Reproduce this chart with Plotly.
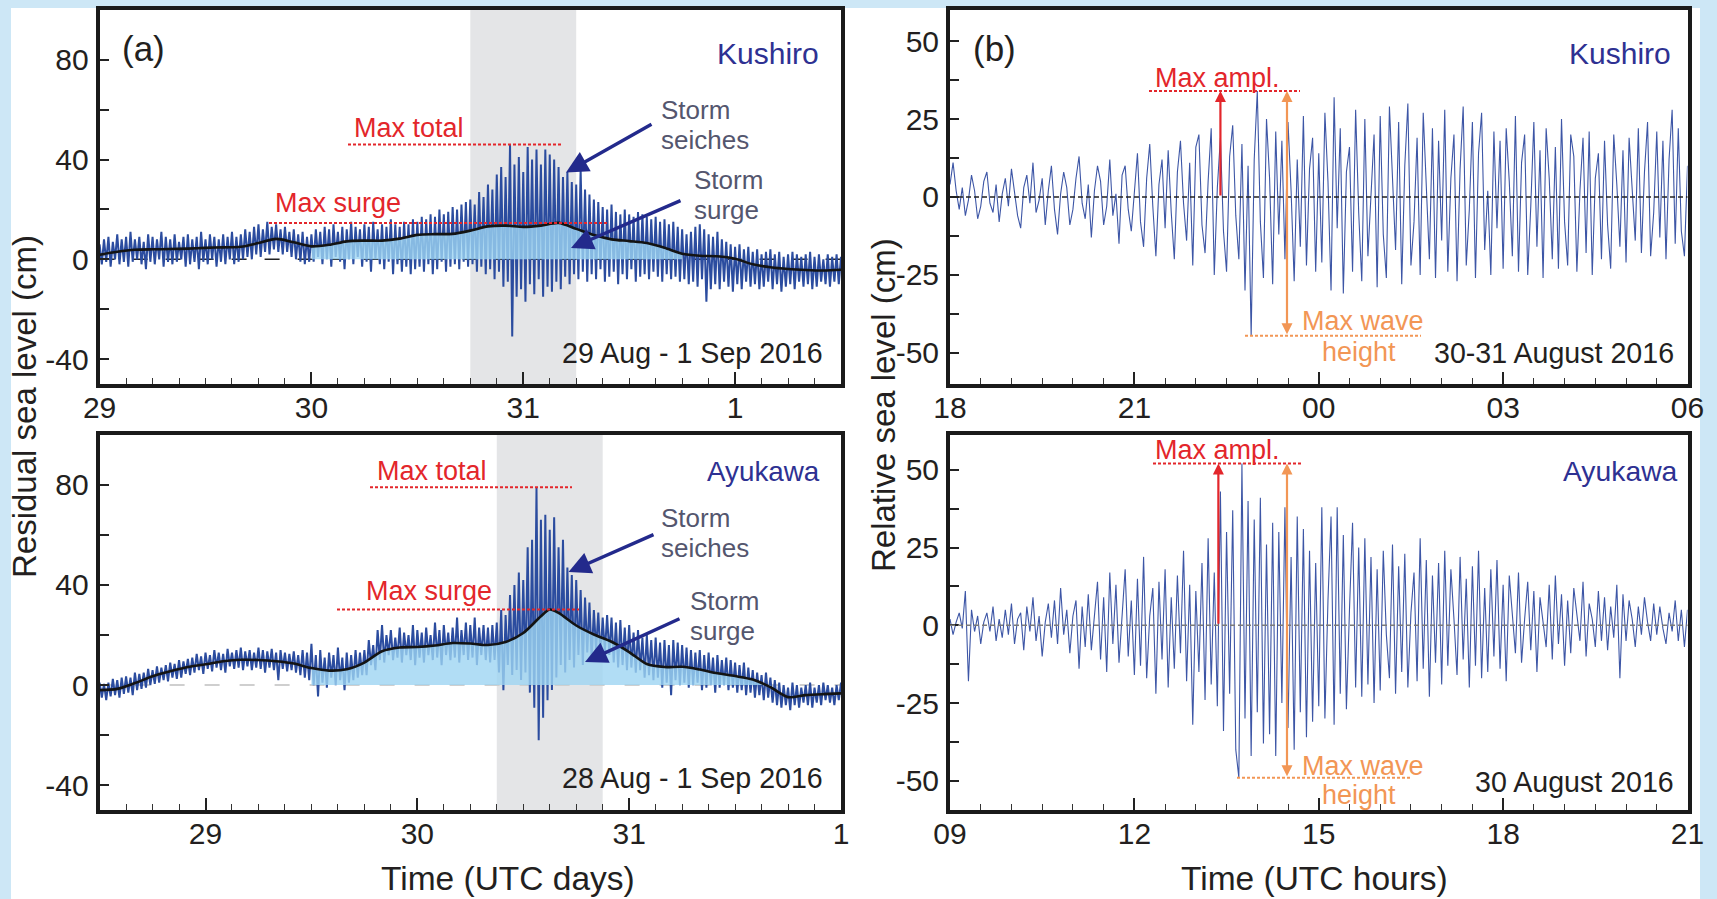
import pandas as pd
import plotly.graph_objects as go

W, H = 1717, 899
FONT = "Liberation Sans, Arial, Helvetica, sans-serif"

# ====================== DATA ======================
# (a) Kushiro residual sea level (cm): upper / lower envelope of the 1-min record in 30-min bins
kus_res_start = "2016-08-29 00:00"
kus_res_hi = [6, 8, 9, 7, 10, 8, 9, 11, 8, 9, 7, 10, 9, 8, 11, 9, 8, 10, 7, 9,
              10, 8, 9, 11, 8, 10, 9, 8, 10, 9, 11, 9, 10, 12, 11, 13,
              14, 12, 15, 13, 14, 12, 13, 11, 12, 10, 11, 9,
              10, 12, 11, 13, 12, 14, 11, 13, 12, 15, 13, 12, 14, 13, 15, 12, 14, 13, 16, 14, 13, 15, 14, 16,
              15, 17, 16, 18, 17, 20, 18, 19, 21, 20, 22, 23,
              24, 22, 27, 25, 30, 28, 34, 37, 33, 46, 38, 41, 35, 45, 40, 44, 38, 44, 42, 40, 37, 33, 35, 31,
              30, 36, 28, 26, 24, 23, 21, 20, 22, 19, 18, 20, 18, 17, 19, 18, 17, 16, 17, 15, 16, 14, 15, 13,
              12, 10, 11, 13, 14, 12, 10, 9, 11, 8, 7, 6, 5, 6, 4, 5, 3, 4, 2, 3,
              4, 2, 3, 1, 2, 3, 2, 1, 2, 3, 1, 2, 0, 2, 1, 2, 1]
kus_res_lo = [-2, -1, -3, 0, -2, -1, -3, -1, 0, -2, -4, -1, -2, 0, -3, -1, -2, -1, 0, -3,
              -2, -1, -4, -1, -2, 0, -3, -1, -2, 0, -2, -1, 0, 1, 0, 2,
              1, 3, 2, 4, 3, 2, 3, 1, 0, -1, -2, -1,
              -1, 1, -2, 0, -3, 1, -1, -4, 0, -2, 1, -3, -1, -5, 0, -2, -4, -1, -6, -2, -5, -3, -6, -4,
              -3, -5, -2, -6, -4, -1, -5, -3, -2, -4, -1, -3,
              -2, -5, -3, -6, -4, -8, -5, -11, -9, -31, -15, -12, -17, -10, -14, -8, -15, -11, -13, -9, -12, -7, -10, -6,
              -8, -5, -9, -6, -8, -4, -9, -7, -5, -10, -6, -8, -4, -9, -7, -6, -8, -5, -7, -9, -6, -8, -7, -9,
              -8, -10, -9, -11, -8, -17, -12, -10, -12, -9, -11, -13, -10, -12, -9, -11, -10, -12, -11, -9,
              -12, -10, -13, -11, -10, -12, -9, -11, -10, -12, -11, -9, -10, -11, -9, -10, -8]
kus_surge_hours = [0, 2, 4, 6, 8, 10, 12, 14, 16, 18, 20, 22, 24, 26, 28, 30, 32, 34, 36, 38, 40, 42,
                   44, 46, 48, 50, 52, 54, 56, 58, 60, 62, 64, 66, 68, 70, 72, 74, 76, 78, 80, 82, 84]
kus_surge = [1.8, 3.0, 3.8, 4.0, 4.1, 4.3, 4.6, 4.8, 5.0, 6.5, 8.2, 6.8, 5.2, 5.8, 7.2, 7.5, 7.5, 8.3, 9.8, 10.1,
             10.2, 11.5, 13.2, 13.5, 13.0, 13.5, 14.6, 12.2, 9.7, 8.0, 7.3, 6.5, 4.6, 2.2, 1.4, 1.2, 0.2, -2.0,
             -3.2, -3.9, -4.3, -4.5, -4.2]

# (a) Ayukawa residual sea level (cm), 30-min bins from 28 Aug 12:00 UTC
ayu_res_start = "2016-08-28 12:00"
ayu_res_hi = [1, 0.5, 1, 2.5, 2, 3, 3.5, 3, 5, 4.5, 5, 6.5, 6, 7.5, 7, 8, 9, 8.5, 10, 9.5, 10.5,
              11, 12.5, 11.5, 13, 12, 14, 13, 12.5, 14.5, 13, 14, 15, 13.5, 14, 13, 15, 14, 13.5, 14.5, 13,
              14, 13, 12.5, 13.5,
              12, 14, 13, 16.5, 12, 14, 11, 13, 12, 15, 11, 13, 12, 14, 13,
              14, 18, 16, 22, 24, 20, 22, 19, 23, 21, 20, 24, 22, 21, 23, 20, 25, 22, 24, 21,
              23, 27, 22, 25, 24, 27, 23, 24,
              23, 24, 25, 30, 28, 36, 40, 45, 42, 55, 58, 79, 66, 68, 62, 67, 55, 58, 47, 44,
              42, 38, 35, 33, 30, 29, 27, 28,
              27, 25, 26, 23, 24, 21, 22, 19, 20, 18, 19, 17, 18, 16, 18, 17, 16, 15, 14, 13,
              14, 12, 13, 11, 12, 10, 11, 10, 9, 8, 9, 7, 6, 5, 4, 5, 3, 2, 1, 0,
              -1, 1, 0, -1, 0, 1, -1, 0, 1, 0, -1, 0, 1]
ayu_res_lo = [-5, -6, -4.5, -4, -5, -3.5, -3, -4, -2, -1.5, -1, 0, 0.5, 1, 2, 1.5, 3, 2.5, 3, 4.5, 4,
              5, 6, 4.5, 6.5, 5.5, 7, 6, 5, 7.5, 6.5, 7, 6, 7.5, 6, 7, 6.5, 5, 7, 6, 2,
              6.5, 5.5, 6, 5,
              4, 3, 2, 0, -4.5, 1, -1, 3, 0, 2, -2, 1, 2, 3, 4,
              4, 8, 6, 10, 9, 12, 10, 11, 9, 12, 10, 8, 11, 9, 12, 10, 11, 8, 12, 10,
              11, 9, 12, 10, 11, 8, 12, 10,
              9, 10, 5, -2, 8, 4, 6, 2, 5, -3, -9, -22, -13, -6, -2, 3, 8, 5, 10, 7,
              12, 8, 13, 10, 14, 11, 13, 12,
              9, 7, 8, 6, 7, 5, 6, 3, 4, 2, 3, -1, 1, -4, 2, 0, 1, -1, 0, 1,
              -2, -1, 0, -3, -1, 0, -2, -1, -3, -2, -4, -3, -5, -4, -6, -5, -7, -8, -9, -8,
              -10, -8, -9, -7, -8, -9, -7, -8, -6, -7, -8, -6, -7]
ayu_surge_hours = [0, 2, 4, 6, 8, 10, 12, 14, 16, 18, 20, 22, 24, 26, 28, 30, 32, 34, 36, 38, 40, 42,
                   44, 46, 48, 50, 51, 52, 54, 56, 58, 60, 62, 64, 66, 68, 70, 72, 74, 76, 78, 80, 82, 84]
ayu_surge = [-2.0, -1.5, 0.8, 3.5, 5.5, 7.2, 8.3, 9.5, 10.1, 10.0, 9.5, 8.6, 6.8, 5.8, 6.3, 9.0, 13.5, 15.0,
             15.2, 15.8, 16.8, 16.6, 16.0, 17.2, 20.8, 27.5, 30.2, 28.8, 23.8, 20.2, 17.3, 13.2, 8.4, 7.2,
             7.3, 6.2, 4.7, 3.6, 2.2, -0.8, -4.8, -4.0, -3.6, -3.3]

# (b) relative sea level (cm), 3-min samples
kus_rel_start = "2016-08-30 18:00"
kus_rel = [4, 11, 2, -4, 3, -6, -1, 7, 2, -7, -3, 5, 8, -2, -5, 4, -8, 1, 6, -3,
           9, 2, -6, -10, 3, 7, -2, 11, -5, -1, 6, -9, 2, 10, -4, -12, 1, 8, 3, -9,
           -4, 6, 13, -2, -7, 4, -13, 2, 10, 5, -9, -3, 12, -6, 1, -15, 7, 10, -4, -11,
           3, 14, -8, -16, 6, 17, -3, -19, 4, 12, -10, 15, -5, -20, 8, 18, -2, -14, 11, -22,
           16, 20, -9, -18, 5, 22, -25, 3, 19, -11, -24, 13, 23, -6, -20, 17, -30, 10, -44.5, 12,
           34, -8, -26, 25, 6, -28, 21, -12, 18, -20, 24, 2, -27, 12, -16, 26, -22, 9, 19, -24,
           14, -21, 27, 5, -30, 32, -10, 22, -31, 8, 16, -24, 28, -5, -27, 25, -19, 3, 20, -29,
           26, -12, -26, 29, 4, -17, 24, -28, 10, 30, -22, -8, 19, -25, 27, 3, -20, 22, -26, 18,
           -14, 28, -24, 6, 20, -27, 9, 29, -22, -4, 24, -26, 14, 27, -17, 2, -25, 21, -10, 18,
           -23, 22, 5, -19, 26, -24, 11, 20, -25, -3, 24, -16, 15, -26, 22, 6, -20, 16, -23, 25,
           -8, -22, 20, 13, -24, 2, 19, -18, 21, -25, 6, 14, -20, 18, -9, -23, 20, 4, -16, 15,
           -21, 19, 3, -14, 22, -18, 8, 24, -19, -5, 21, -13, 18, -20, 12, 28, -15, 22, -11, -19,
           10]
ayu_rel_start = "2016-08-30 09:00"
ayu_rel = [2, -3, 1, 4, -1, 11, -18, 5, -2, 3, -6, 1, 4, -2, 6, -5, 2, -4, 5, -3,
           7, -6, 2, 4, -8, 6, -2, 9, -5, 3, -10, 1, 7, -4, 8, -6, 12, -3, 5, -9,
           3, 8, -14, 6, -7, 10, -8, 2, 14, -11, 9, -15, 17, -6, 13, -12, 4, 18, -10, 8,
           -16, 15, -13, 22, -17, 3, 12, -22, 14, -11, 18, -20, 9, -14, 16, -9, 24, -18, 13, -32,
           11, -15, 20, -24, 28, -19, 17, -26, 43, -34, 30, -22, 37, -40, -49, 52, -30, 40, -42, 34,
           -28, 41, -38, 26, -35, 33, -42, 30, -25, 38, -33, 22, -40, 35, -28, 31, -36, 24, -31, 20,
           -26, 38, -30, 8, 35, -32, 38, -22, 29, -27, 5, 33, -20, 25, -23, 28, -19, 22, -25, 18,
           -21, 24, -3, -17, 26, -22, 19, -15, 23, -20, 4, 17, -18, 28, -14, 21, -23, 16, -12, 20,
           -19, 24, -13, 18, 2, -16, 22, -11, 15, -20, 19, -13, 24, -17, 12, -15, 18, -10, 21, -14,
           13, -18, 16, 4, -9, 17, -12, 2, 14, -8, 11, -15, 9, 1, -7, 13, -11, 16, -6, 10,
           -13, 8, -9, 12, 3, -5, 14, -10, 7, 2, -7, 11, -5, 9, -8, 6, -4, 13, -17, 10,
           -5, 8, 2, -7, 6, -3, 9, 1, -5, 7, -3, 6, -1, -6, 4, -2, 8, -5, 5, -7,
           5]

# axis ticks
a_tickvals = [-40, -20, 0, 20, 40, 60, 80]
a_ticktext = ["-40", "", "0", "", "40", "", "80"]
b_tickvals = [-50, -37.5, -25, -12.5, 0, 12.5, 25, 37.5, 50]
b_ticktext = ["-50", "", "-25", "", "0", "", "25", "", "50"]

# ====================== STYLE / LAYOUT CONSTANTS ======================
SIG = "#2b4c9f"
SIG_B = "#3d56a6"
FILL = "rgba(158,213,242,0.80)"
RED = "#e3262b"
ORANGE = "#f29655"
NAVY = "#2e3192"
GREY_TXT = "#54566e"
ARROW = "#232a8c"
TXT = "#231f20"


def px(x):
    return x / W


def py(y):
    return 1 - y / H


def times(base, hours):
    b = pd.Timestamp(base)
    return [b + pd.Timedelta(minutes=round(h * 60, 3)) for h in hours]


fig = go.Figure()


def add_panel_a(base, hi, lo, sh, sv, win, xa, ya):
    n = min(len(hi), len(lo))
    th, vv = [], []
    for i in range(n):
        th += [i * 0.5, i * 0.5 + 0.25]
        vv += [hi[i], lo[i]]
    fig.add_trace(go.Scatter(x=times(base, th), y=vv, mode="lines",
                             line=dict(color=SIG, width=2.0), xaxis=xa, yaxis=ya,
                             hoverinfo="skip", showlegend=False))
    fh = [h for h in sh if win[0] <= h <= win[1]]
    fv = [v for h, v in zip(sh, sv) if win[0] <= h <= win[1]]
    fig.add_trace(go.Scatter(x=times(base, fh), y=fv, mode="lines", fill="tozeroy",
                             fillcolor=FILL, line=dict(width=0, shape="spline", smoothing=0.8),
                             xaxis=xa, yaxis=ya, hoverinfo="skip", showlegend=False))
    fig.add_trace(go.Scatter(x=times(base, sh), y=sv, mode="lines",
                             line=dict(color="#141414", width=2.6, shape="spline", smoothing=0.8),
                             xaxis=xa, yaxis=ya, hoverinfo="skip", showlegend=False))


def add_panel_b(base, vals, xa, ya):
    fig.add_trace(go.Scatter(x=times(base, [i * 0.05 for i in range(len(vals))]), y=vals,
                             mode="lines", line=dict(color=SIG_B, width=1.1),
                             xaxis=xa, yaxis=ya, hoverinfo="skip", showlegend=False))


add_panel_a(kus_res_start, kus_res_hi, kus_res_lo, kus_surge_hours, kus_surge, (24, 66), "x", "y")
add_panel_a(ayu_res_start, ayu_res_hi, ayu_res_lo, ayu_surge_hours, ayu_surge, (24, 76), "x2", "y2")
add_panel_b(kus_rel_start, kus_rel, "x3", "y3")
add_panel_b(ayu_rel_start, ayu_rel, "x4", "y4")

shapes = []
# white sheet on light-blue background
shapes.append(dict(type="rect", xref="paper", yref="paper", x0=px(11), x1=px(1700), y0=0, y1=py(8),
                   fillcolor="white", line=dict(width=0), layer="below"))
# grey storm windows (a)
shapes.append(dict(type="rect", xref="x", yref="y domain", x0="2016-08-30 18:00", x1="2016-08-31 06:00",
                   y0=0, y1=1, fillcolor="#e4e5e7", line=dict(width=0), layer="below"))
shapes.append(dict(type="rect", xref="x2", yref="y2 domain", x0="2016-08-30 09:00", x1="2016-08-30 21:00",
                   y0=0, y1=1, fillcolor="#e4e5e7", line=dict(width=0), layer="below"))
# zero lines
shapes.append(dict(type="line", xref="x domain", yref="y", x0=0, x1=1, y0=0, y1=0,
                   line=dict(color="#222", width=1.5, dash="15px,18px"), layer="below"))
shapes.append(dict(type="line", xref="x2 domain", yref="y2", x0=0, x1=1, y0=0, y1=0,
                   line=dict(color="#cfcfcf", width=2, dash="15px,20px"), layer="below"))
shapes.append(dict(type="line", xref="x3 domain", yref="y3", x0=0, x1=1, y0=0, y1=0,
                   line=dict(color="#222", width=1.4, dash="5px,3px"), layer="above"))
shapes.append(dict(type="line", xref="x4 domain", yref="y4", x0=0, x1=1, y0=0, y1=0,
                   line=dict(color="#7a7a7a", width=1.4, dash="5px,3px"), layer="above"))


def hline(x0, x1, yref, yv, color):
    shapes.append(dict(type="line", xref="paper", yref=yref, x0=px(x0), x1=px(x1), y0=yv, y1=yv,
                       line=dict(color=color, width=2, dash="3px,2px"), layer="above"))


hline(348, 563, "y", max(kus_res_hi), RED)
hline(269, 608, "y", max(kus_surge), RED)
hline(370, 572, "y2", max(ayu_res_hi), RED)
hline(337, 579, "y2", max(ayu_surge), RED)
hline(1149, 1300, "y3", max(kus_rel), RED)
hline(1245, 1421, "y3", min(kus_rel), ORANGE)
hline(1153, 1301, "y4", max(ayu_rel), RED)
hline(1237, 1410, "y4", min(ayu_rel), ORANGE)

ann = []


def text(x, y, s, size, color, anchor="left", angle=0):
    ann.append(dict(x=px(x), y=py(y), xref="paper", yref="paper", text=s, showarrow=False,
                    xanchor=anchor, yanchor="middle", textangle=angle,
                    align=anchor if anchor != "center" else "center",
                    font=dict(family=FONT, size=size, color=color)))


def two_lines(x, y, l1, l2, glyph, spacing, color):
    # one text block: base font sets the line spacing, spans set the glyph size
    s = (f"<span style='font-size:{glyph}px'>{l1}</span><br>"
         f"<span style='font-size:{glyph}px'>{l2}</span>")
    text(x, y, s, spacing / 1.3, color)


def arrow(hx, hy, dx, dy):
    ann.append(dict(x=px(hx), y=py(hy), xref="paper", yref="paper", text="", showarrow=True,
                    ax=dx, ay=dy, arrowhead=2, arrowsize=1.3, arrowwidth=3.4, arrowcolor=ARROW))


# panel (a) top
text(120, 48, "(a)", 35, TXT)
text(821, 54, "Kushiro", 30, NAVY, "right")
text(352, 127.5, "Max total", 27, RED)
text(273, 203, "Max surge", 27, RED)
two_lines(659, 125.5, "Storm", "seiches", 26, 29.6, GREY_TXT)
two_lines(692, 195, "Storm", "surge", 26, 29.6, GREY_TXT)
text(825, 352.5, "29 Aug - 1 Sep 2016", 28.6, TXT, "right")
arrow(566, 172.5, 87, -49)
arrow(571, 248, 111, -48)
# panel (a) bottom
text(822, 471, "Ayukawa", 27.8, NAVY, "right")
text(375, 471.5, "Max total", 27, RED)
text(364, 591, "Max surge", 27, RED)
two_lines(659, 532.7, "Storm", "seiches", 26, 29.6, GREY_TXT)
two_lines(688, 616, "Storm", "surge", 26, 29.6, GREY_TXT)
text(825, 777.5, "28 Aug - 1 Sep 2016", 28.6, TXT, "right")
arrow(568.5, 572, 86.5, -38)
arrow(585, 662, 96, -44)
# panel (b) top
text(971, 48, "(b)", 35, TXT)
text(1673, 54, "Kushiro", 30, NAVY, "right")
text(1217.5, 77.5, "Max ampl.", 27, RED, "center")
text(1300, 321, "Max wave", 27, ORANGE)
text(1359, 352, "height", 27, ORANGE, "center")
text(1676, 352.5, "30-31 August 2016", 28.6, TXT, "right")
# panel (b) bottom
text(1680, 471, "Ayukawa", 28.3, NAVY, "right")
text(1217.5, 449.5, "Max ampl.", 27, RED, "center")
text(1300, 766, "Max wave", 27, ORANGE)
text(1359, 795, "height", 27, ORANGE, "center")
text(1676, 782, "30 August 2016", 28.6, TXT, "right")
# axis titles
text(24, 407, "Residual sea level (cm)", 33, TXT, "center", -90)
text(883, 405, "Relative sea level (cm)", 33, TXT, "center", -90)
text(507.5, 878, "Time (UTC days)", 33.5, TXT, "center")
text(1314.5, 878, "Time (UTC hours)", 33.5, TXT, "center")


# red / orange measurement arrows in (b)
def varrow(xa, ya, t, y_head, y_tail, color, both=False):
    ann.append(dict(x=t, y=y_head, xref=xa, yref=ya, ax=t, ay=y_tail, axref=xa, ayref=ya,
                    text="", showarrow=True, arrowhead=2, arrowsize=1, arrowwidth=2.2,
                    arrowcolor=color, arrowside="end+start" if both else "end"))


varrow("x3", "y3", "2016-08-30 22:24", max(kus_rel), 0, RED)
varrow("x3", "y3", "2016-08-30 23:29", max(kus_rel), min(kus_rel), ORANGE, True)
varrow("x4", "y4", "2016-08-30 13:22", max(ayu_rel), 0, RED)
varrow("x4", "y4", "2016-08-30 14:29", max(ayu_rel), min(ayu_rel), ORANGE, True)

A_X = [px(99.6), px(841)]
B_X = [px(950), px(1687.5)]
TOP_Y = [py(384), py(9.9)]
BOT_Y = [py(810.3), py(434.7)]

tickfont = dict(family=FONT, size=30, color=TXT)
frame = dict(showline=True, mirror=True, linewidth=4, linecolor="#1a1a1a", showgrid=False, zeroline=False)


def xaxis(domain, rng, dtick, tick0, minor_dtick, fmt, anchor):
    return dict(domain=domain, range=rng, type="date", tickformat=fmt, dtick=dtick, tick0=tick0,
                ticks="inside", ticklen=12, tickwidth=1.5, tickcolor="#222", anchor=anchor,
                tickfont=tickfont, ticklabelstandoff=-6, automargin=False,
                minor=dict(dtick=minor_dtick, tick0=tick0, ticks="inside", ticklen=6, tickwidth=1.3,
                           tickcolor="#333", showgrid=False), **frame)


def yaxis(domain, rng, tv, tt, anchor):
    return dict(domain=domain, range=rng, tickvals=tv, ticktext=tt, ticks="inside", ticklen=9,
                tickwidth=1.5, tickcolor="#222", anchor=anchor, tickfont=tickfont,
                ticklabelstandoff=1, automargin=False, **frame)


DAY = 86400000
HR3 = 10800000
layout = dict(
    width=W, height=H, autosize=False, margin=dict(l=0, r=0, t=0, b=0, pad=0),
    paper_bgcolor="#cde7f6", plot_bgcolor="white",
    font=dict(family=FONT, color=TXT),
    showlegend=False,
    xaxis=xaxis(A_X, ["2016-08-29 00:00", "2016-09-01 12:00"], DAY, "2016-08-29", HR3, "%-d", "y"),
    yaxis=yaxis(TOP_Y, [-50, 100], a_tickvals, a_ticktext, "x"),
    xaxis2=xaxis(A_X, ["2016-08-28 12:00", "2016-09-01 00:00"], DAY, "2016-08-29", HR3, "%-d", "y2"),
    yaxis2=yaxis(BOT_Y, [-50, 100], a_tickvals, a_ticktext, "x2"),
    xaxis3=xaxis(B_X, ["2016-08-30 18:00", "2016-08-31 06:00"], HR3, "2016-08-30", 1800000, "%H", "y3"),
    yaxis3=yaxis(TOP_Y, [-60, 60], b_tickvals, b_ticktext, "x3"),
    xaxis4=xaxis(B_X, ["2016-08-30 09:00", "2016-08-30 21:00"], HR3, "2016-08-30", 1800000, "%H", "y4"),
    yaxis4=yaxis(BOT_Y, [-59.5, 61.3], b_tickvals, b_ticktext, "x4"),
    shapes=shapes, annotations=ann,
)
fig.update_layout(**layout)

fig.write_html("out.html", config={"displayModeBar": False, "responsive": False},
               post_script="document.body.style.margin='0';")
